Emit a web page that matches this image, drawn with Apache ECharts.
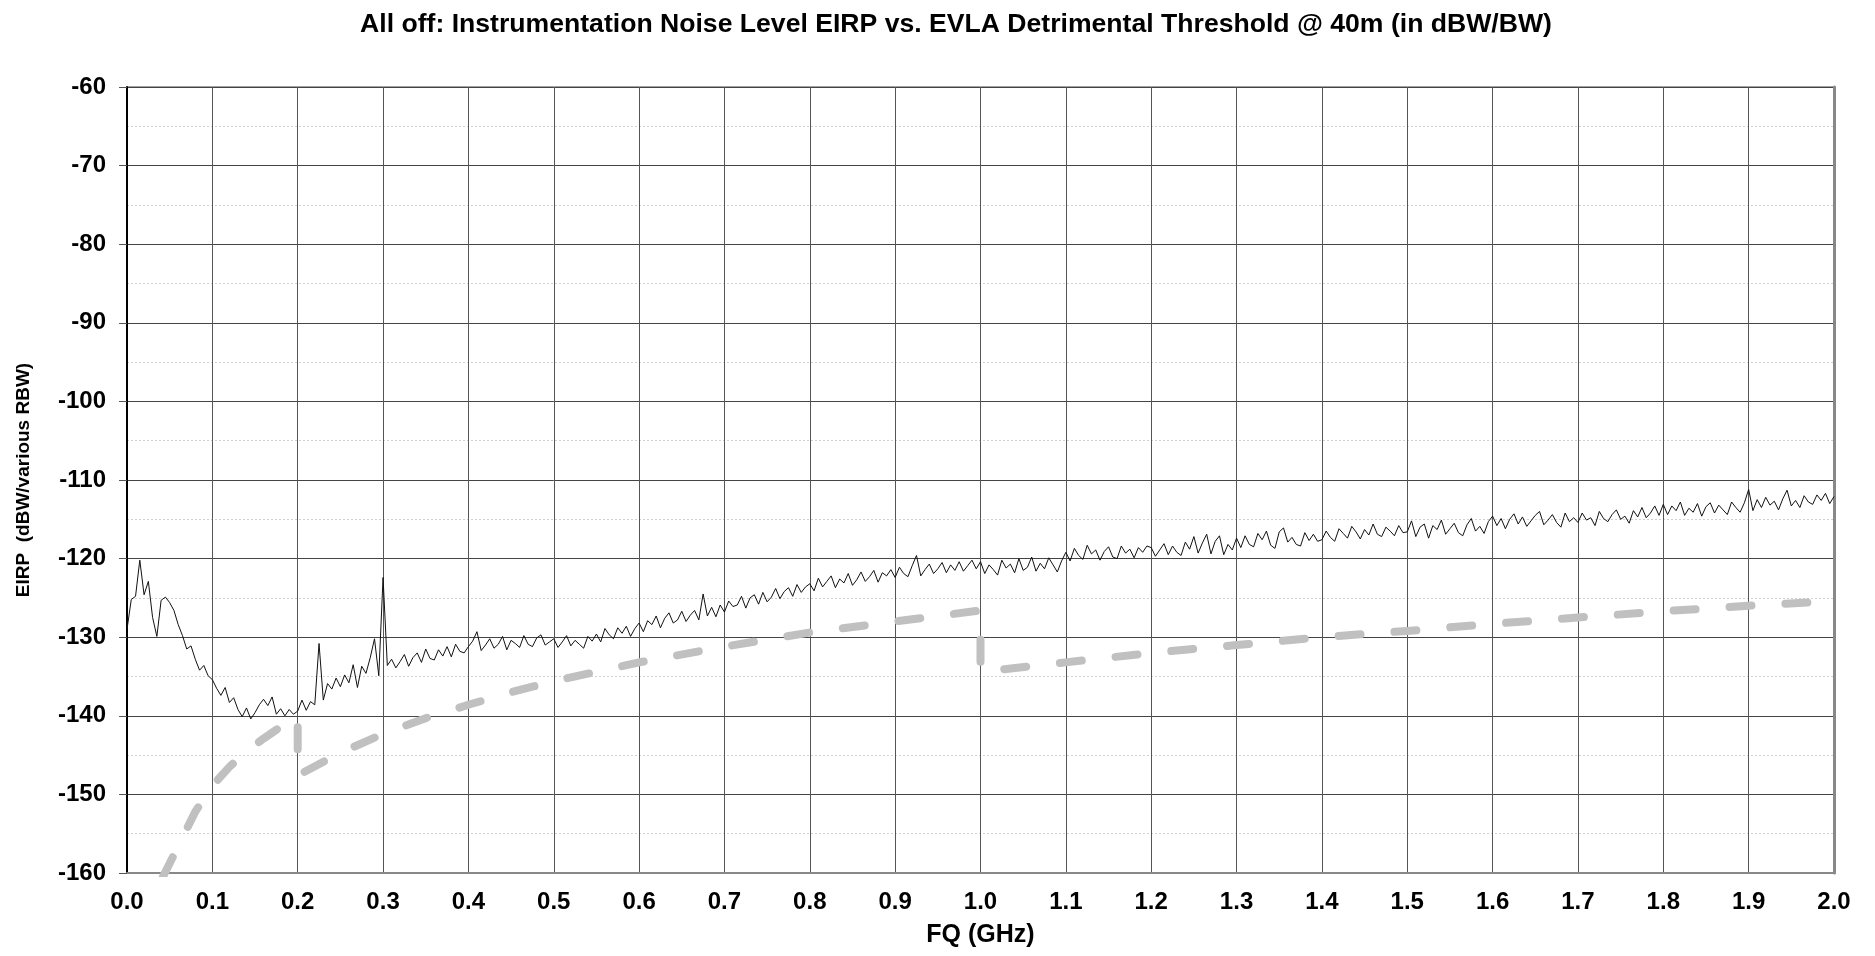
<!DOCTYPE html>
<html>
<head>
<meta charset="utf-8">
<title>EIRP vs. EVLA threshold</title>
<script src="https://cdn.jsdelivr.net/npm/echarts@6/dist/echarts.min.js"></script>
<style>
	html, body { margin: 0; padding: 0; background: #fff; }
	#chart { width: 1875px; height: 956px; }
</style>
</head>
<body>
<div id="chart"></div>
<script>
const TITLE = "All off: Instrumentation Noise Level EIRP vs. EVLA Detrimental Threshold @ 40m (in dBW/BW)";
const X_NAME = "FQ (GHz)";
const Y_NAME = "EIRP  (dBW/various RBW)";

const X_TICKS = [0.0, 0.1, 0.2, 0.3, 0.4, 0.5, 0.6, 0.7, 0.8, 0.9, 1.0, 1.1, 1.2, 1.3, 1.4, 1.5, 1.6, 1.7, 1.8, 1.9, 2.0];
const Y_TICKS = [-160, -150, -140, -130, -120, -110, -100, -90, -80, -70, -60];

// measured noise trace, one value every 5 MHz (rows = 0.1 GHz)
const FREQ_STEP = 0.005;
const NOISE_DBW = [
	-129.0, -125.2, -124.8, -120.2, -124.6, -122.9, -127.5, -129.9, -125.3, -124.9, -125.6, -126.6, -128.4, -129.8, -131.5, -131.1, -132.8, -134.2, -133.6, -134.9,
	-135.4, -136.5, -137.4, -136.4, -138.3, -137.7, -139.2, -140.1, -139.0, -140.4, -139.6, -138.6, -137.9, -138.7, -137.6, -139.8, -139.1, -140.0, -139.2, -139.8,
	-139.4, -138.0, -139.3, -138.2, -138.6, -130.8, -138.0, -135.9, -136.6, -135.2, -136.3, -134.8, -135.8, -133.5, -136.4, -133.7, -134.6, -132.6, -130.2, -134.9,
	-122.4, -133.6, -132.8, -133.9, -133.1, -132.2, -133.7, -132.6, -132.0, -133.2, -131.5, -132.7, -132.9, -131.6, -132.4, -131.2, -132.5, -130.9, -131.8, -132.0,
	-131.2, -130.5, -129.3, -131.7, -131.0, -130.2, -131.4, -130.9, -129.9, -131.6, -130.4, -130.8, -131.3, -129.8, -130.9, -131.2, -130.1, -129.7, -131.0, -130.6,
	-130.2, -131.3, -130.6, -129.8, -131.1, -130.4, -130.9, -131.4, -129.9, -130.5, -129.6, -130.6, -128.9, -129.7, -130.2, -128.8, -129.5, -128.6, -129.9, -128.9,
	-128.2, -129.3, -127.9, -128.4, -127.3, -128.8, -127.6, -126.9, -128.2, -127.8, -126.7, -128.0, -127.2, -126.6, -127.8, -124.5, -127.3, -126.2, -127.4, -125.9,
	-126.8, -125.4, -126.1, -125.9, -124.8, -126.3, -125.0, -124.6, -125.8, -124.3, -125.5, -124.9, -123.8, -125.1, -124.2, -123.7, -124.8, -123.3, -124.3, -123.6,
	-123.2, -124.1, -122.5, -123.6, -122.9, -122.2, -123.7, -122.6, -123.1, -121.9, -123.4, -122.7, -121.7, -122.9, -122.3, -121.5, -123.0, -121.8, -122.2, -121.4,
	-122.4, -121.1, -121.9, -122.3, -120.9, -119.6, -122.2, -121.4, -120.7, -121.9, -121.3, -120.5, -121.8, -120.8, -121.5, -120.4, -121.6, -120.9, -120.2, -121.3,
	-120.4, -121.9, -120.8, -121.4, -122.1, -120.2, -121.2, -120.7, -121.8, -120.0, -121.5, -121.1, -119.8, -121.6, -120.6, -121.3, -119.9, -120.8, -121.7, -120.3,
	-119.2, -120.3, -118.7, -119.6, -120.1, -118.3, -119.4, -118.9, -120.2, -119.1, -118.5, -119.8, -120.0, -118.4, -119.3, -118.8, -119.9, -118.6, -119.2, -118.4,
	-118.6, -119.7, -118.9, -118.1, -119.5, -118.4, -119.2, -119.6, -117.9, -118.8, -117.2, -119.3, -118.0, -116.9, -119.4, -117.8, -117.1, -119.5, -118.2, -118.9,
	-117.4, -118.6, -117.1, -118.2, -118.5, -116.8, -117.6, -116.5, -118.3, -118.7, -116.6, -116.1, -117.9, -117.3, -118.2, -118.4, -116.7, -117.7, -116.9, -117.8,
	-117.6, -116.5, -117.3, -117.8, -116.2, -116.8, -117.4, -115.9, -116.6, -117.5, -116.3, -117.0, -115.6, -116.9, -117.2, -116.0, -116.5, -117.1, -115.8, -116.7,
	-116.6, -115.2, -117.2, -116.0, -115.6, -117.4, -115.8, -116.3, -115.1, -116.9, -116.2, -115.5, -116.7, -117.1, -115.7, -114.9, -116.5, -115.9, -116.8, -115.3,
	-114.6, -115.8, -114.9, -116.2, -115.0, -114.3, -115.6, -114.7, -115.9, -115.2, -114.5, -114.0, -115.7, -115.1, -114.4, -115.4, -116.0, -114.2, -115.3, -114.8,
	-115.4, -114.2, -115.1, -114.8, -115.8, -114.0, -114.9, -115.3, -114.4, -113.8, -115.0, -114.6, -115.5, -113.9, -114.7, -113.5, -114.8, -114.2, -113.3, -114.5,
	-113.1, -114.4, -113.3, -113.9, -112.8, -114.5, -113.6, -114.1, -113.0, -114.6, -113.4, -112.9, -114.2, -113.2, -113.8, -114.4, -112.8, -113.5, -114.1, -112.9,
	-111.2, -113.9, -112.5, -113.5, -112.2, -113.2, -112.7, -113.8, -112.4, -111.3, -113.3, -112.6, -113.5, -112.0, -112.8, -113.1, -111.9, -112.6, -111.7, -113.0,
	-112.1
];

// EVLA detrimental threshold (steps down at 0.2 and 1.0 GHz)
const THRESH_FQ = [0.042, 0.06, 0.08, 0.1, 0.12, 0.14, 0.16, 0.18, 0.2, 0.2, 0.25, 0.3, 0.35, 0.4, 0.45, 0.5, 0.6, 0.7, 0.8, 0.9, 1.0, 1.0, 1.1, 1.2, 1.3, 1.4, 1.5, 1.6, 1.7, 1.8, 1.9, 2.0];
const THRESH_DBW = [-160.5, -156.6, -152.2, -148.9, -146.5, -144.5, -142.9, -141.4, -140.2, -147.6, -144.7, -142.3, -140.3, -138.6, -137.0, -135.6, -133.2, -131.2, -129.4, -128.0, -126.6, -134.4, -133.2, -132.0, -131.0, -130.0, -129.2, -128.3, -127.5, -126.7, -126.0, -125.4];

const FONT = "'Liberation Sans', Arial, sans-serif";

const chart = echarts.init(document.getElementById("chart"), null, { renderer: "canvas" });

const noiseData = NOISE_DBW.map((v, i) => [+(i * FREQ_STEP).toFixed(3), v]);
const threshData = THRESH_FQ.map((f, i) => [f, THRESH_DBW[i]]);

const option = {
	animation: false,
	backgroundColor: "#fff",
	title: {
		text: TITLE,
		left: 951,
		top: 6,
		textAlign: "center",
		textStyle: { fontFamily: FONT, fontWeight: "bold", fontSize: 26.6, color: "#000" },
	},
	grid: {
		left: 127,
		right: 41,
		top: 87,
		bottom: 83,
		show: true,
		borderColor: "#444",
		borderWidth: 1,
	},
	xAxis: {
		type: "value",
		min: X_TICKS[0],
		max: X_TICKS[X_TICKS.length - 1],
		interval: 0.1,
		name: X_NAME,
		nameLocation: "middle",
		nameGap: 50,
		nameTextStyle: { fontFamily: FONT, fontWeight: "bold", fontSize: 25, color: "#000" },
		axisLine: { show: true, lineStyle: { color: "#888", width: 2 } },
		axisTick: { show: false },
		axisLabel: {
			margin: 17,
			fontFamily: FONT,
			fontWeight: "bold",
			fontSize: 24,
			color: "#000",
			formatter: (v) => v.toFixed(1),
		},
		splitLine: { show: true, lineStyle: { color: "#555", width: 1 } },
	},
	yAxis: [
		{
			type: "value",
			min: Y_TICKS[0],
			max: Y_TICKS[Y_TICKS.length - 1],
			interval: 10,
			name: Y_NAME,
			nameLocation: "middle",
			nameRotate: 90,
			nameGap: 94,
			nameTextStyle: { fontFamily: FONT, fontWeight: "bold", fontSize: 19, color: "#000" },
			axisLine: { show: true, lineStyle: { color: "#000", width: 2 } },
			axisTick: { show: true, inside: false, length: 8, lineStyle: { color: "#555", width: 1 } },
			axisLabel: { margin: 21, fontFamily: FONT, fontWeight: "bold", fontSize: 24, color: "#000" },
			splitLine: { show: true, lineStyle: { color: "#444", width: 1 } },
			minorTick: { show: false, splitNumber: 2 },
			minorSplitLine: { show: true, lineStyle: { color: "#d0d0d0", width: 1, type: [2, 2] } },
		},
		{
			// right-hand frame edge
			type: "value",
			position: "right",
			min: Y_TICKS[0],
			max: Y_TICKS[Y_TICKS.length - 1],
			interval: 10,
			axisLine: { show: true, lineStyle: { color: "#888", width: 3 } },
			axisTick: { show: false },
			axisLabel: { show: false },
			splitLine: { show: false },
		},
	],
	series: [
		{
			name: "threshold",
			type: "line",
			data: threshData,
			showSymbol: false,
			symbol: "none",
			clip: true,
			lineStyle: { color: "#c0c0c0", width: 8, type: [22, 34], cap: "round", join: "round" },
			z: 3,
		},
		{
			name: "noise",
			type: "line",
			data: noiseData,
			showSymbol: false,
			symbol: "none",
			clip: true,
			lineStyle: { color: "#111", width: 1 },
			z: 4,
		},
	],
};

chart.setOption(option);
</script>
</body>
</html>
